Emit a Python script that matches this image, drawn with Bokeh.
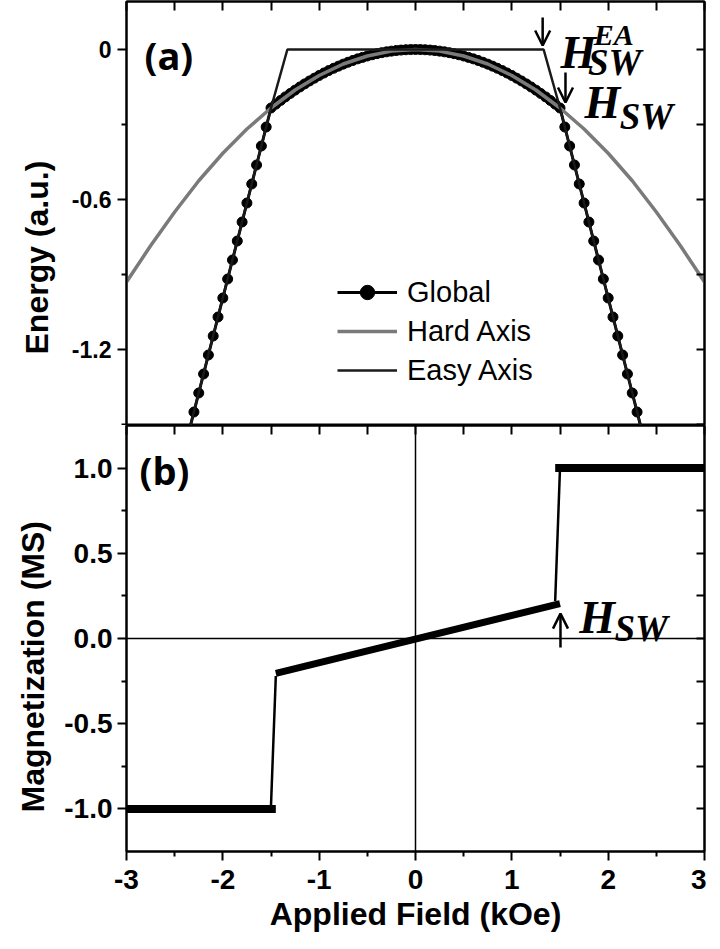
from bokeh.plotting import figure
from bokeh.models import (LinearAxis, FixedTicker, CustomJSTickFormatter, Span,
                          Arrow, OpenHead, Legend, LegendItem, Title)
from bokeh.layouts import column
from bokeh.embed import file_html
from bokeh.resources import INLINE
from bokeh.core.properties import value

# ---------------- data: panel (a) energy ----------------
hard_H = [-3.0, -2.75, -2.5, -2.25, -2.0, -1.75, -1.5, -1.25, -1.0, -0.75, -0.5, -0.25, 0.0,
          0.25, 0.5, 0.75, 1.0, 1.25, 1.5, 1.75, 2.0, 2.25, 2.5, 2.75, 3.0]
hard_E = [-0.93, -0.785, -0.65, -0.525, -0.415, -0.318, -0.234, -0.162, -0.104, -0.058, -0.026, -0.0065, 0.0,
          -0.0065, -0.026, -0.058, -0.104, -0.162, -0.234, -0.318, -0.415, -0.525, -0.65, -0.785, -0.93]

easy_H = [-2.4, -1.5, -1.33, 1.33, 1.5, 2.4]
easy_E = [-1.6, -0.234, 0.0, 0.0, -0.234, -1.6]

# global minimum energy, sampled every 0.05 kOe (positive half; curve is symmetric)
global_H_pos = [0.0, 0.05, 0.1, 0.15, 0.2, 0.25, 0.3, 0.35, 0.4, 0.45, 0.5, 0.55, 0.6, 0.65, 0.7,
                0.75, 0.8, 0.85, 0.9, 0.95, 1.0, 1.05, 1.1, 1.15, 1.2, 1.25, 1.3, 1.35, 1.4, 1.45,
                1.5, 1.55, 1.6, 1.65, 1.7, 1.75, 1.8, 1.85, 1.9, 1.95, 2.0, 2.05, 2.1, 2.15, 2.2,
                2.25, 2.3, 2.35, 2.4]
global_E_pos = [0.0, -0.0003, -0.001, -0.0023, -0.0042, -0.0065, -0.0094, -0.0127, -0.0166, -0.0211,
                -0.026, -0.0315, -0.0374, -0.0439, -0.051, -0.0585, -0.0666, -0.0751, -0.0842, -0.0939,
                -0.104, -0.1147, -0.1258, -0.1375, -0.1498, -0.1625, -0.1758, -0.1895, -0.2038, -0.2187,
                -0.234, -0.31, -0.386, -0.462, -0.538, -0.614, -0.69, -0.766, -0.842, -0.918,
                -0.994, -1.07, -1.146, -1.222, -1.298, -1.374, -1.45, -1.526, -1.602]
global_H = [-h for h in global_H_pos[:0:-1]] + global_H_pos
global_E = global_E_pos[:0:-1] + global_E_pos

# ---------------- data: panel (b) magnetization ----------------
neg_sat_H, neg_sat_M = [-3.0, -1.45], [-1.0, -1.0]
lin_H, lin_M = [-1.45, 1.5], [-0.205, 0.205]
pos_sat_H, pos_sat_M = [1.45, 3.0], [1.0, 1.0]
jump_lo_H, jump_lo_M = [-1.5, -1.45], [-0.98, -0.22]
jump_hi_H, jump_hi_M = [1.45, 1.5], [0.22, 1.0]

x_major = [-3, -2, -1, 0, 1, 2, 3]
x_minor = [-2.5, -1.5, -0.5, 0.5, 1.5, 2.5]
e_major = [0.0, -0.6, -1.2]
e_minor = [-0.3, -0.9, -1.5]
m_major = [-1.0, -0.5, 0.0, 0.5, 1.0]
m_minor = [-0.75, -0.25, 0.25, 0.75]

SANS = "Liberation Sans"
SERIF = "Liberation Serif"


def make_axis(major, minor, size="22px", labels=True, fmt=None, tick_in=0, tick_out=9,
              minor_in=0, minor_out=5):
    if not labels:
        fmt = "return '';"
    kw = {}
    if fmt is not None:
        kw["formatter"] = CustomJSTickFormatter(code=fmt)
    ax = LinearAxis(ticker=FixedTicker(ticks=major, minor_ticks=minor), **kw)
    ax.axis_line_width = 2
    ax.axis_line_color = "black"
    ax.major_tick_line_width = 2
    ax.minor_tick_line_width = 2
    ax.major_tick_in = tick_in
    ax.major_tick_out = tick_out
    ax.minor_tick_in = minor_in
    ax.minor_tick_out = minor_out
    if labels:
        ax.major_label_text_font = SANS
        ax.major_label_text_font_style = "bold"
        ax.major_label_text_font_size = size
        ax.major_label_text_color = "black"
    else:
        ax.major_label_text_font_size = "0px"
        ax.major_label_standoff = 0
    return ax


def side_title(text, align, offset, standoff):
    return Title(text=text, align=align, offset=offset, standoff=standoff,
                 text_font=SANS, text_font_style="bold", text_font_size="32px",
                 text_color="black")


# ---------------- panel (a) ----------------
p1 = figure(width=706, height=425, x_range=(-3, 3), y_range=(-1.504, 0.192),
            output_backend="svg", toolbar_location=None,
            x_axis_location=None, y_axis_location=None,
            min_border_left=126, min_border_right=2, min_border_top=1, min_border_bottom=0)
p1.grid.visible = False
p1.outline_line_color = "black"
p1.outline_line_width = 2
p1.background_fill_color = "white"

ax = make_axis(e_major, e_minor, size="23px", fmt="return tick == 0 ? '0' : tick.toFixed(1);")
ax.major_label_standoff = 6
p1.add_layout(ax, "left")
p1.add_layout(make_axis(e_major, e_minor, labels=False, tick_in=8, tick_out=0,
                        minor_in=8, minor_out=0), "right")
p1.add_layout(make_axis(x_major, x_minor, labels=False, tick_in=9, tick_out=0,
                        minor_in=9, minor_out=0), "above")
p1.add_layout(side_title("Energy (a.u.)", "left", 71, 28), "left")

g_line = p1.line(global_H, global_E, line_color="black", line_width=3)
g_dots = p1.scatter(global_H, global_E, size=10, fill_color="black", line_color="black")
h_line = p1.line(hard_H, hard_E, line_color="#7a7a7a", line_width=3.5)
e_line = p1.line(easy_H, easy_E, line_color="#1a1a1a", line_width=2.5)

legend = Legend(items=[LegendItem(label="Global", renderers=[g_line, g_dots]),
                       LegendItem(label="Hard Axis", renderers=[h_line]),
                       LegendItem(label="Easy Axis", renderers=[e_line])],
                location=(211, 37), padding=0, margin=0, border_line_color=None,
                background_fill_alpha=0, glyph_width=60, glyph_height=36, label_height=36,
                label_standoff=10, spacing=3, label_text_font=SANS, label_text_font_size="29px",
                label_text_color="black")
p1.add_layout(legend)

# panel label and switching-field annotations
p1.text(x=[-2.813], y=[-0.02], text=["(a)"], text_font=value("Open Sans"), text_font_style="bold",
        text_font_size="38px", text_baseline="alphabetic", text_color="black")
p1.add_layout(Arrow(end=OpenHead(size=15, line_width=2.5, line_color="black"),
                    x_start=1.32, y_start=0.128, x_end=1.32, y_end=0.016,
                    line_width=2.5, line_color="black"))
p1.add_layout(Arrow(end=OpenHead(size=15, line_width=2.5, line_color="black"),
                    x_start=1.557, y_start=-0.092, x_end=1.557, y_end=-0.212,
                    line_width=2.5, line_color="black"))
p1.text(x=[1.505, 1.755], y=[-0.012, -0.212], text=["H", "H"], text_font=value(SERIF),
        text_font_style="bold italic", text_font_size="46px", text_baseline="alphabetic",
        text_color="black")
p1.text(x=[1.85], y=[0.06], text=["EA"], text_font=value(SERIF), text_font_style="bold italic",
        text_font_size="30px", text_baseline="alphabetic", text_color="black")
p1.text(x=[1.79, 2.12], y=[-0.052, -0.268], text=["SW", "SW"], text_font=value(SERIF),
        text_font_style="bold italic", text_font_size="37px", text_baseline="alphabetic",
        text_color="black")

# ---------------- panel (b) ----------------
p2 = figure(width=706, height=516, x_range=(-3, 3), y_range=(-1.25, 1.25),
            output_backend="svg", toolbar_location=None,
            x_axis_location=None, y_axis_location=None,
            min_border_left=126, min_border_right=2, min_border_top=0, min_border_bottom=90)
p2.grid.visible = False
p2.outline_line_color = "black"
p2.outline_line_width = 2
p2.background_fill_color = "white"

ax2 = make_axis(m_major, m_minor, size="28px", fmt="return tick.toFixed(1);")
ax2.major_label_standoff = 5
p2.add_layout(ax2, "left")
p2.add_layout(make_axis(m_major, m_minor, labels=False, tick_in=8, tick_out=0,
                        minor_in=8, minor_out=0), "right")
p2.add_layout(make_axis(x_major, x_minor, labels=False, tick_in=9, tick_out=0,
                        minor_in=9, minor_out=0), "above")
axb = make_axis(x_major, x_minor, size="28px", fmt="return tick.toFixed(0);")
axb.major_label_standoff = 9
p2.add_layout(axb, "below")
p2.add_layout(side_title("Magnetization (MS)", "left", 39, 22), "left")
p2.add_layout(side_title("Applied Field (kOe)", "center", -6, 5), "below")

p2.add_layout(Span(location=0, dimension="height", line_color="black", line_width=1.5, level="underlay"))
p2.add_layout(Span(location=0, dimension="width", line_color="black", line_width=1.5, level="underlay"))

for hx, my in [(neg_sat_H, neg_sat_M), (pos_sat_H, pos_sat_M)]:
    p2.line(hx, my, line_color="black", line_width=8, line_cap="butt")
p2.line(lin_H, lin_M, line_color="black", line_width=7, line_cap="butt")
for hx, my in [(jump_lo_H, jump_lo_M), (jump_hi_H, jump_hi_M)]:
    p2.line(hx, my, line_color="black", line_width=2.5)

p2.text(x=[-2.865], y=[0.99], text=["(b)"], text_font=value("Open Sans"), text_font_style="bold",
        text_font_size="38px", text_baseline="alphabetic", text_color="black")
p2.add_layout(Arrow(end=OpenHead(size=15, line_width=2.5, line_color="black"),
                    x_start=1.505, y_start=-0.053, x_end=1.505, y_end=0.146,
                    line_width=2.5, line_color="black"))
p2.text(x=[1.70], y=[0.123], text=["H"], text_font=value(SERIF), text_font_style="bold italic",
        text_font_size="46px", text_baseline="alphabetic", text_color="black")
p2.text(x=[2.065], y=[0.058], text=["SW"], text_font=value(SERIF), text_font_style="bold italic",
        text_font_size="37px", text_baseline="alphabetic", text_color="black")

layout = column(p1, p2, spacing=0)
open("out.html", "w").write(file_html(layout, INLINE))
